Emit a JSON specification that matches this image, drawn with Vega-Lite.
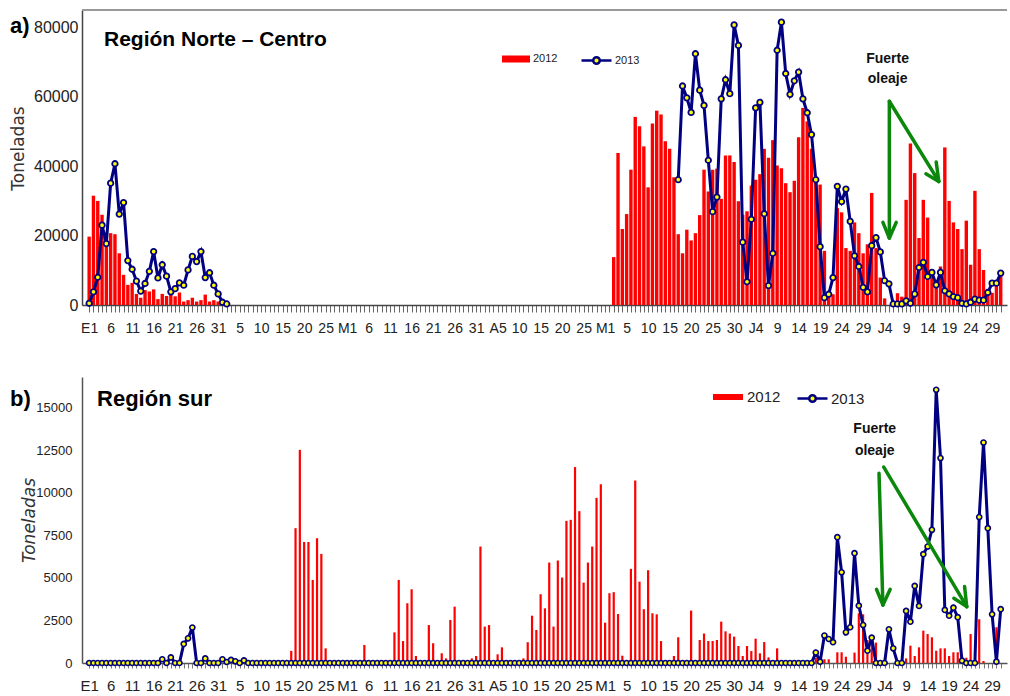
{
  "$schema": "https://vega.github.io/schema/vega-lite/v6.json",
  "background": "white",
  "padding": {"left": 9, "top": 9, "right": 0, "bottom": 0},
  "spacing": 42,
  "resolve": {"scale": {"fill": "independent", "stroke": "independent"}, "legend": {"fill": "independent", "stroke": "independent"}},
  "config": {"view": {"stroke": null}, "axis": {"grid": false}},
  "datasets": {
    "norte2012": [
      {"dia":0,"t":19700},{"dia":1,"t":31500},{"dia":2,"t":30000},{"dia":3,"t":26000},{"dia":4,"t":20900},{"dia":5,"t":20700},{"dia":6,"t":20400},{"dia":7,"t":14900},{"dia":8,"t":8700},{"dia":9,"t":5800},{"dia":10,"t":6400},{"dia":11,"t":3200},{"dia":12,"t":2100},{"dia":13,"t":4300},{"dia":14,"t":3900},{"dia":15,"t":4500},{"dia":16,"t":1700},{"dia":17,"t":3200},{"dia":18,"t":2600},{"dia":19,"t":2900},{"dia":20,"t":2500},{"dia":21,"t":3600},{"dia":22,"t":1000},{"dia":23,"t":1400},{"dia":24,"t":2100},{"dia":25,"t":1000},{"dia":26,"t":1400},{"dia":27,"t":3000},{"dia":28,"t":1000},{"dia":29,"t":1400},{"dia":30,"t":1000},{"dia":31,"t":500},
      {"dia":122,"t":13800},{"dia":123,"t":43800},{"dia":124,"t":21900},{"dia":125,"t":26200},{"dia":126,"t":39000},{"dia":127,"t":54200},{"dia":128,"t":51500},{"dia":129,"t":45700},{"dia":130,"t":33900},{"dia":131,"t":52300},{"dia":132,"t":56000},{"dia":133,"t":54900},{"dia":134,"t":47200},{"dia":135,"t":45000},{"dia":136,"t":36800},{"dia":137,"t":20400},{"dia":138,"t":14900},{"dia":139,"t":21700},{"dia":140,"t":18600},{"dia":141,"t":20700},{"dia":142,"t":25900},{"dia":143,"t":39000},{"dia":144,"t":32700},{"dia":145,"t":39000},{"dia":146,"t":39300},{"dia":147,"t":30600},{"dia":148,"t":43100},{"dia":149,"t":43100},{"dia":150,"t":41200},{"dia":151,"t":29900},{"dia":152,"t":26000},{"dia":153,"t":27000},{"dia":154,"t":34400},{"dia":155,"t":36100},{"dia":156,"t":37700},{"dia":157,"t":45000},{"dia":158,"t":42400},{"dia":159,"t":47500},{"dia":160,"t":40200},{"dia":161,"t":39400},{"dia":162,"t":35100},{"dia":163,"t":32500},{"dia":164,"t":35800},{"dia":165,"t":48300},{"dia":166,"t":56800},{"dia":167,"t":52900},{"dia":168,"t":45000},{"dia":169,"t":36100},{"dia":170,"t":34700},{"dia":171,"t":15600},{"dia":172,"t":3400},{"dia":173,"t":3100},{"dia":174,"t":27900},{"dia":175,"t":26700},{"dia":176,"t":16400},{"dia":177,"t":15600},{"dia":178,"t":23800},{"dia":179,"t":20700},{"dia":180,"t":14900},{"dia":181,"t":17500},{"dia":182,"t":32300},{"dia":183,"t":16400},{"dia":184,"t":7900},{"dia":185,"t":1900},{"dia":188,"t":3400},{"dia":189,"t":2400},{"dia":190,"t":30300},{"dia":191,"t":46500},{"dia":192,"t":38000},{"dia":193,"t":19300},{"dia":194,"t":30300},{"dia":195,"t":25200},{"dia":196,"t":10000},{"dia":197,"t":6300},{"dia":198,"t":11100},{"dia":199,"t":45400},{"dia":200,"t":30000},{"dia":201,"t":23800},{"dia":202,"t":21900},{"dia":203,"t":16100},{"dia":204,"t":24300},{"dia":205,"t":11600},{"dia":206,"t":32900},{"dia":207,"t":16100},{"dia":208,"t":10100},{"dia":209,"t":4300},{"dia":210,"t":3500},{"dia":211,"t":6300},{"dia":212,"t":8500}
    ],
    "norte2013": [
      {"dia":0,"t":500,"tramo":1},{"dia":1,"t":3800,"tramo":1},{"dia":2,"t":8000,"tramo":1},{"dia":3,"t":23000,"tramo":1},{"dia":4,"t":17700,"tramo":1},{"dia":5,"t":35100,"tramo":1},{"dia":6,"t":40700,"tramo":1},{"dia":7,"t":26200,"tramo":1},{"dia":8,"t":29500,"tramo":1},{"dia":9,"t":12800,"tramo":1},{"dia":10,"t":10300,"tramo":1},{"dia":11,"t":6900,"tramo":1},{"dia":12,"t":4000,"tramo":1},{"dia":13,"t":6200,"tramo":1},{"dia":14,"t":9700,"tramo":1},{"dia":15,"t":15400,"tramo":1},{"dia":16,"t":7800,"tramo":1},{"dia":17,"t":11600,"tramo":1},{"dia":18,"t":8300,"tramo":1},{"dia":19,"t":3800,"tramo":1},{"dia":20,"t":4700,"tramo":1},{"dia":21,"t":6400,"tramo":1},{"dia":22,"t":5700,"tramo":1},{"dia":23,"t":10100,"tramo":1},{"dia":24,"t":14000,"tramo":1},{"dia":25,"t":12500,"tramo":1},{"dia":26,"t":15400,"tramo":1},{"dia":27,"t":7900,"tramo":1},{"dia":28,"t":9300,"tramo":1},{"dia":29,"t":5700,"tramo":1},{"dia":30,"t":3200,"tramo":1},{"dia":31,"t":800,"tramo":1},{"dia":32,"t":300,"tramo":1},
      {"dia":137,"t":36100,"tramo":2},{"dia":138,"t":63100,"tramo":2},{"dia":139,"t":59700,"tramo":2},{"dia":140,"t":55500,"tramo":2},{"dia":141,"t":72400,"tramo":2},{"dia":142,"t":61900,"tramo":2},{"dia":143,"t":57500,"tramo":2},{"dia":144,"t":41700,"tramo":2},{"dia":145,"t":26900,"tramo":2},{"dia":146,"t":31100,"tramo":2},{"dia":147,"t":59400,"tramo":2},{"dia":148,"t":64900,"tramo":2},{"dia":149,"t":60900,"tramo":2},{"dia":150,"t":80700,"tramo":2},{"dia":151,"t":74800,"tramo":2},{"dia":152,"t":18100,"tramo":2},{"dia":153,"t":6700,"tramo":2},{"dia":154,"t":24700,"tramo":2},{"dia":155,"t":56800,"tramo":2},{"dia":156,"t":58400,"tramo":2},{"dia":157,"t":26300,"tramo":2},{"dia":158,"t":5600,"tramo":2},{"dia":159,"t":14900,"tramo":2},{"dia":160,"t":73400,"tramo":2},{"dia":161,"t":81500,"tramo":2},{"dia":162,"t":66700,"tramo":2},{"dia":163,"t":60700,"tramo":2},{"dia":164,"t":64600,"tramo":2},{"dia":165,"t":67100,"tramo":2},{"dia":166,"t":59400,"tramo":2},{"dia":167,"t":55400,"tramo":2},{"dia":168,"t":49100,"tramo":2},{"dia":169,"t":36100,"tramo":2},{"dia":170,"t":16800,"tramo":2},{"dia":171,"t":2100,"tramo":2},{"dia":172,"t":3100,"tramo":2},{"dia":173,"t":7900,"tramo":2},{"dia":174,"t":34200,"tramo":2},{"dia":175,"t":29800,"tramo":2},{"dia":176,"t":33400,"tramo":2},{"dia":177,"t":24100,"tramo":2},{"dia":178,"t":14200,"tramo":2},{"dia":179,"t":11100,"tramo":2},{"dia":180,"t":5100,"tramo":2},{"dia":181,"t":3800,"tramo":2},{"dia":182,"t":17100,"tramo":2},{"dia":183,"t":19400,"tramo":2},{"dia":184,"t":15300,"tramo":2},{"dia":185,"t":7000,"tramo":2},{"dia":186,"t":6100,"tramo":2},{"dia":187,"t":300,"tramo":2},{"dia":188,"t":300,"tramo":2},{"dia":189,"t":300,"tramo":2},{"dia":190,"t":1200,"tramo":2},{"dia":191,"t":500,"tramo":2},{"dia":192,"t":3200,"tramo":2},{"dia":193,"t":10800,"tramo":2},{"dia":194,"t":12300,"tramo":2},{"dia":195,"t":8200,"tramo":2},{"dia":196,"t":9400,"tramo":2},{"dia":197,"t":5800,"tramo":2},{"dia":198,"t":9400,"tramo":2},{"dia":199,"t":4100,"tramo":2},{"dia":200,"t":3200,"tramo":2},{"dia":201,"t":2400,"tramo":2},{"dia":202,"t":2100,"tramo":2},{"dia":203,"t":500,"tramo":2},{"dia":204,"t":300,"tramo":2},{"dia":205,"t":800,"tramo":2},{"dia":206,"t":1700,"tramo":2},{"dia":207,"t":1400,"tramo":2},{"dia":208,"t":1400,"tramo":2},{"dia":209,"t":3600,"tramo":2},{"dia":210,"t":6300,"tramo":2},{"dia":211,"t":6300,"tramo":2},{"dia":212,"t":9200,"tramo":2}
    ],
    "sur2012": [
      {"dia":47,"t":710},{"dia":48,"t":7920},{"dia":49,"t":12520},{"dia":50,"t":7110},{"dia":51,"t":7110},{"dia":52,"t":4880},{"dia":53,"t":7330},{"dia":54,"t":6410},{"dia":55,"t":860},{"dia":64,"t":1060},{"dia":71,"t":1800},{"dia":72,"t":4880},{"dia":73,"t":1290},{"dia":74,"t":3510},{"dia":75,"t":4330},{"dia":76,"t":410},{"dia":79,"t":2230},{"dia":80,"t":1160},{"dia":82,"t":570},{"dia":83,"t":270},{"dia":84,"t":2530},{"dia":85,"t":3310},{"dia":89,"t":270},{"dia":90,"t":410},{"dia":91,"t":6840},{"dia":92,"t":2140},{"dia":93,"t":2230},{"dia":95,"t":510},{"dia":96,"t":920},{"dia":101,"t":270},{"dia":102,"t":1220},{"dia":103,"t":2780},{"dia":104,"t":1940},{"dia":105,"t":4040},{"dia":106,"t":3210},{"dia":107,"t":5900},{"dia":108,"t":2140},{"dia":109,"t":6020},{"dia":110,"t":5020},{"dia":111,"t":8350},{"dia":112,"t":8410},{"dia":113,"t":11510},{"dia":114,"t":8920},{"dia":115,"t":4720},{"dia":116,"t":5900},{"dia":117,"t":6840},{"dia":118,"t":9700},{"dia":119,"t":10500},{"dia":120,"t":2370},{"dia":121,"t":4100},{"dia":122,"t":4160},{"dia":123,"t":2880},{"dia":124,"t":430},{"dia":126,"t":5530},{"dia":127,"t":10720},{"dia":128,"t":4780},{"dia":129,"t":3160},{"dia":130,"t":5450},{"dia":131,"t":2920},{"dia":132,"t":2860},{"dia":133,"t":1290},{"dia":136,"t":410},{"dia":137,"t":1510},{"dia":140,"t":3080},{"dia":142,"t":1350},{"dia":143,"t":1730},{"dia":144,"t":1290},{"dia":145,"t":1290},{"dia":146,"t":1350},{"dia":147,"t":2430},{"dia":148,"t":1860},{"dia":149,"t":1730},{"dia":150,"t":1550},{"dia":151,"t":1000},{"dia":152,"t":410},{"dia":153,"t":1000},{"dia":154,"t":700},{"dia":155,"t":1430},{"dia":156,"t":570},{"dia":157,"t":1230},{"dia":158,"t":330},{"dia":160,"t":860},{"dia":169,"t":300},{"dia":171,"t":220},{"dia":172,"t":220},{"dia":174,"t":630},{"dia":175,"t":630},{"dia":176,"t":370},{"dia":178,"t":610},{"dia":179,"t":2920},{"dia":180,"t":2860},{"dia":181,"t":1350},{"dia":182,"t":1650},{"dia":183,"t":1200},{"dia":190,"t":270},{"dia":191,"t":1020},{"dia":192,"t":410},{"dia":193,"t":920},{"dia":194,"t":1900},{"dia":195,"t":1700},{"dia":196,"t":1510},{"dia":197,"t":720},{"dia":198,"t":860},{"dia":199,"t":860},{"dia":200,"t":410},{"dia":201,"t":630},{"dia":202,"t":630},{"dia":203,"t":270},{"dia":204,"t":310},{"dia":205,"t":1700},{"dia":207,"t":2570},{"dia":208,"t":120},{"dia":211,"t":2100}
    ],
    "sur2013": [
      {"dia":0,"t":0},{"dia":1,"t":0},{"dia":2,"t":0},{"dia":3,"t":0},{"dia":4,"t":0},{"dia":5,"t":0},{"dia":6,"t":0},{"dia":7,"t":0},{"dia":8,"t":0},{"dia":9,"t":0},{"dia":10,"t":0},{"dia":11,"t":0},{"dia":12,"t":0},{"dia":13,"t":0},{"dia":14,"t":0},{"dia":15,"t":0},{"dia":16,"t":0},{"dia":17,"t":220},{"dia":18,"t":0},{"dia":19,"t":330},{"dia":20,"t":0},{"dia":21,"t":0},{"dia":22,"t":1120},{"dia":23,"t":1450},{"dia":24,"t":2080},{"dia":25,"t":0},{"dia":26,"t":0},{"dia":27,"t":270},{"dia":28,"t":0},{"dia":29,"t":0},{"dia":30,"t":0},{"dia":31,"t":220},{"dia":32,"t":60},{"dia":33,"t":180},{"dia":34,"t":100},{"dia":35,"t":0},{"dia":36,"t":150},{"dia":37,"t":0},{"dia":38,"t":0},{"dia":39,"t":0},
      {"dia":40,"t":0},{"dia":41,"t":0},{"dia":42,"t":0},{"dia":43,"t":0},{"dia":44,"t":0},{"dia":45,"t":0},{"dia":46,"t":0},{"dia":47,"t":0},{"dia":48,"t":0},{"dia":49,"t":0},{"dia":50,"t":0},{"dia":51,"t":0},{"dia":52,"t":0},{"dia":53,"t":0},{"dia":54,"t":0},{"dia":55,"t":0},{"dia":56,"t":0},{"dia":57,"t":0},{"dia":58,"t":0},{"dia":59,"t":0},{"dia":60,"t":0},{"dia":61,"t":0},{"dia":62,"t":0},{"dia":63,"t":0},{"dia":64,"t":0},{"dia":65,"t":0},{"dia":66,"t":0},{"dia":67,"t":0},{"dia":68,"t":0},{"dia":69,"t":0},{"dia":70,"t":0},{"dia":71,"t":0},{"dia":72,"t":0},{"dia":73,"t":0},{"dia":74,"t":0},{"dia":75,"t":0},{"dia":76,"t":0},{"dia":77,"t":0},{"dia":78,"t":0},{"dia":79,"t":0},
      {"dia":80,"t":0},{"dia":81,"t":0},{"dia":82,"t":0},{"dia":83,"t":0},{"dia":84,"t":0},{"dia":85,"t":0},{"dia":86,"t":0},{"dia":87,"t":0},{"dia":88,"t":0},{"dia":89,"t":0},{"dia":90,"t":0},{"dia":91,"t":0},{"dia":92,"t":0},{"dia":93,"t":0},{"dia":94,"t":0},{"dia":95,"t":0},{"dia":96,"t":0},{"dia":97,"t":0},{"dia":98,"t":0},{"dia":99,"t":0},{"dia":100,"t":0},{"dia":101,"t":0},{"dia":102,"t":0},{"dia":103,"t":0},{"dia":104,"t":0},{"dia":105,"t":0},{"dia":106,"t":0},{"dia":107,"t":0},{"dia":108,"t":0},{"dia":109,"t":0},{"dia":110,"t":0},{"dia":111,"t":0},{"dia":112,"t":0},{"dia":113,"t":0},{"dia":114,"t":0},{"dia":115,"t":0},{"dia":116,"t":0},{"dia":117,"t":0},{"dia":118,"t":0},{"dia":119,"t":0},
      {"dia":120,"t":0},{"dia":121,"t":0},{"dia":122,"t":0},{"dia":123,"t":0},{"dia":124,"t":0},{"dia":125,"t":0},{"dia":126,"t":0},{"dia":127,"t":0},{"dia":128,"t":0},{"dia":129,"t":0},{"dia":130,"t":0},{"dia":131,"t":0},{"dia":132,"t":0},{"dia":133,"t":0},{"dia":134,"t":0},{"dia":135,"t":0},{"dia":136,"t":0},{"dia":137,"t":0},{"dia":138,"t":0},{"dia":139,"t":0},{"dia":140,"t":0},{"dia":141,"t":0},{"dia":142,"t":0},{"dia":143,"t":0},{"dia":144,"t":0},{"dia":145,"t":0},{"dia":146,"t":0},{"dia":147,"t":0},{"dia":148,"t":0},{"dia":149,"t":0},{"dia":150,"t":0},{"dia":151,"t":0},{"dia":152,"t":0},{"dia":153,"t":0},{"dia":154,"t":0},{"dia":155,"t":0},{"dia":156,"t":0},{"dia":157,"t":0},{"dia":158,"t":0},{"dia":159,"t":0},
      {"dia":160,"t":0},{"dia":161,"t":0},{"dia":162,"t":0},{"dia":163,"t":0},{"dia":164,"t":0},{"dia":165,"t":0},{"dia":166,"t":0},{"dia":167,"t":0},{"dia":168,"t":0},{"dia":169,"t":610},{"dia":170,"t":80},{"dia":171,"t":1610},{"dia":172,"t":1410},{"dia":173,"t":1220},{"dia":174,"t":7390},{"dia":175,"t":5330},{"dia":176,"t":1800},{"dia":177,"t":2100},{"dia":178,"t":6450},{"dia":179,"t":3370},{"dia":180,"t":2230},{"dia":181,"t":720},{"dia":182,"t":1490},{"dia":183,"t":0},{"dia":184,"t":0},{"dia":185,"t":0},{"dia":186,"t":1980},{"dia":187,"t":860},{"dia":188,"t":0},{"dia":189,"t":0},{"dia":190,"t":3060},{"dia":191,"t":2430},{"dia":192,"t":4530},{"dia":193,"t":3350},{"dia":194,"t":6390},{"dia":195,"t":6840},{"dia":196,"t":7820},{"dia":197,"t":16050},{"dia":198,"t":12040},{"dia":199,"t":3120},{"dia":200,"t":2780},{"dia":201,"t":3250},{"dia":202,"t":2690},{"dia":203,"t":135},{"dia":204,"t":0},{"dia":205,"t":0},{"dia":206,"t":0},{"dia":207,"t":8570},{"dia":208,"t":12950},{"dia":209,"t":7920},{"dia":210,"t":2860},{"dia":211,"t":80},{"dia":212,"t":3160}
    ],
    "flechasA": [
      {"d1":186.1,"v1":58700,"d2":186.1,"v2":19300},
      {"d1":184.6,"v1":23800,"d2":186.1,"v2":19300},
      {"d1":187.7,"v1":23800,"d2":186.1,"v2":19300},
      {"d1":186.1,"v1":58700,"d2":197.6,"v2":35600},
      {"d1":194.6,"v1":37800,"d2":197.6,"v2":35600},
      {"d1":197.0,"v1":41200,"d2":197.6,"v2":35600}
    ],
    "flechasB": [
      {"d1":183.7,"v1":11150,"d2":184.6,"v2":3410},
      {"d1":183.1,"v1":4330,"d2":184.6,"v2":3410},
      {"d1":186.3,"v1":4330,"d2":184.6,"v2":3410},
      {"d1":184.8,"v1":11510,"d2":204.1,"v2":3310},
      {"d1":201.1,"v1":3800,"d2":204.1,"v2":3310},
      {"d1":203.6,"v1":4490,"d2":204.1,"v2":3310}
    ]
  },
  "vconcat": [
    {
      "width": 925,
      "height": 295,
      "layer": [
        {
          "data": {"name": "norte2012"},
          "mark": {"type": "bar", "width": 3.4},
          "encoding": {
            "x": {"field": "dia", "type": "quantitative",
              "scale": {"domain": [-0.5, 212.3], "nice": false, "zero": false},
              "axis": {"title": null, "tickCount": 1000, "values": [0,1,2,3,4,5,6,7,8,9,10,11,12,13,14,15,16,17,18,19,20,21,22,23,24,25,26,27,28,29,30,31,32,33,34,35,36,37,38,39,40,41,42,43,44,45,46,47,48,49,50,51,52,53,54,55,56,57,58,59,60,61,62,63,64,65,66,67,68,69,70,71,72,73,74,75,76,77,78,79,80,81,82,83,84,85,86,87,88,89,90,91,92,93,94,95,96,97,98,99,100,101,102,103,104,105,106,107,108,109,110,111,112,113,114,115,116,117,118,119,120,121,122,123,124,125,126,127,128,129,130,131,132,133,134,135,136,137,138,139,140,141,142,143,144,145,146,147,148,149,150,151,152,153,154,155,156,157,158,159,160,161,162,163,164,165,166,167,168,169,170,171,172,173,174,175,176,177,178,179,180,181,182,183,184,185,186,187,188,189,190,191,192,193,194,195,196,197,198,199,200,201,202,203,204,205,206,207,208,209,210,211,212],
                "labelExpr": "datum.value % 5 == 0 ? ['E1','6','11','16','21','26','31','5','10','15','20','25','M1','6','11','16','21','26','31','A5','10','15','20','25','M1','5','10','15','20','25','30','J4','9','14','19','24','29','J4','9','14','19','24','29'][datum.value/5] : ''",
                "labelOverlap": false, "labelBound": false, "labelFlush": false,
                "labelFont": "Liberation Sans, Arial, sans-serif",
                "labelFontSize": 14, "labelColor": "#222", "labelPadding": 9,
                "tickSize": 7, "tickColor": "#666", "tickWidth": 1,
                "domainColor": "#444", "domainWidth": 1.5}},
            "y": {"field": "t", "type": "quantitative",
              "scale": {"domain": [0, 85000], "nice": false},
              "axis": {"values": [0, 20000, 40000, 60000, 80000], "format": "d",
                "ticks": false, "labelPadding": 4,
                "labelFont": "Liberation Sans, Arial, sans-serif", "labelFontSize": 16, "labelColor": "#222",
                "domainColor": "#444", "domainWidth": 1.5,
                "title": "Toneladas", "titleFont": "DejaVu Sans, sans-serif", "titleFontSize": 17,
                "titleFontWeight": "normal", "titleColor": "#333", "titleX": -55, "titleY": 138}},
            "fill": {"datum": "2012", "type": "nominal",
              "scale": {"domain": ["2012"], "range": ["#ff0000"]},
              "legend": {"orient": "none", "legendX": 420, "legendY": 35, "title": null,
                "direction": "horizontal", "padding": 0,
                "symbolType": "M-1,-0.25H1V0.25H-1Z", "symbolSize": 784, "symbolStrokeWidth": 0,
                "labelFont": "Liberation Sans, Arial, sans-serif",
                "labelFontSize": 11, "labelColor": "#222", "labelOffset": 3}}
          }
        },
        {
          "data": {"values": [{}]},
          "mark": {"type": "rule", "color": "#999999", "strokeWidth": 2},
          "encoding": {"y": {"datum": 85000, "type": "quantitative"}}
        },
        {
          "data": {"name": "norte2013"},
          "mark": {"type": "line", "color": "#000080", "strokeWidth": 3},
          "encoding": {
            "x": {"field": "dia", "type": "quantitative"},
            "y": {"field": "t", "type": "quantitative"},
            "detail": {"field": "tramo", "type": "nominal"}
          }
        },
        {
          "data": {"name": "norte2013"},
          "mark": {"type": "point", "filled": true, "fill": "#ffff00", "opacity": 1, "strokeWidth": 1.8, "size": 30},
          "encoding": {
            "x": {"field": "dia", "type": "quantitative"},
            "y": {"field": "t", "type": "quantitative"},
            "stroke": {"datum": "2013", "type": "nominal",
              "scale": {"domain": ["2013"], "range": ["#000080"]},
              "legend": {"orient": "none", "legendX": 498, "legendY": 34, "title": null,
                "direction": "horizontal", "padding": 0,
                "symbolType": "M-1,0H-0.22M0.22,0H1M-0.22,0A0.22,0.22 0 1,0 0.22,0A0.22,0.22 0 1,0 -0.22,0Z",
                "symbolSize": 900, "symbolStrokeWidth": 2.5, "symbolFillColor": "#ffff00",
                "labelFont": "Liberation Sans, Arial, sans-serif",
                "labelFontSize": 11, "labelColor": "#222", "labelOffset": 2}}
          }
        },
        {
          "data": {"name": "flechasA"},
          "mark": {"type": "rule", "color": "#0b870b", "strokeWidth": 3.5, "strokeCap": "round"},
          "encoding": {
            "x": {"field": "d1", "type": "quantitative"},
            "y": {"field": "v1", "type": "quantitative"},
            "x2": {"field": "d2"},
            "y2": {"field": "v2"}
          }
        },
        {
          "data": {"values": [{}]},
          "mark": {"type": "text", "text": "Fuerte|oleaje", "lineBreak": "|", "lineHeight": 20,
            "align": "center", "baseline": "alphabetic",
            "font": "Liberation Sans, Arial, sans-serif",
            "fontWeight": "bold", "fontSize": 14, "color": "#111"},
          "encoding": {
            "x": {"datum": 185.7, "type": "quantitative"},
            "y": {"datum": 69800, "type": "quantitative"}
          }
        },
        {
          "data": {"values": [{}]},
          "mark": {"type": "text", "text": "a)", "align": "left", "baseline": "alphabetic",
            "font": "Liberation Sans, Arial, sans-serif",
            "fontWeight": "bold", "fontSize": 22, "color": "#000"},
          "encoding": {
            "x": {"datum": -18.4, "type": "quantitative"},
            "y": {"datum": 78300, "type": "quantitative"}
          }
        },
        {
          "data": {"values": [{}]},
          "mark": {"type": "text", "text": "Región Norte – Centro", "align": "left", "baseline": "alphabetic",
            "font": "Liberation Sans, Arial, sans-serif",
            "fontWeight": "bold", "fontSize": 21, "color": "#000"},
          "encoding": {
            "x": {"datum": 3.45, "type": "quantitative"},
            "y": {"datum": 74600, "type": "quantitative"}
          }
        }
      ]
    },
    {
      "width": 925,
      "height": 286,
      "layer": [
        {
          "data": {"name": "sur2012"},
          "mark": {"type": "bar", "width": 2.2},
          "encoding": {
            "x": {"field": "dia", "type": "quantitative",
              "scale": {"domain": [-0.5, 212.3], "nice": false, "zero": false},
              "axis": {"title": null, "tickCount": 1000, "values": [0,1,2,3,4,5,6,7,8,9,10,11,12,13,14,15,16,17,18,19,20,21,22,23,24,25,26,27,28,29,30,31,32,33,34,35,36,37,38,39,40,41,42,43,44,45,46,47,48,49,50,51,52,53,54,55,56,57,58,59,60,61,62,63,64,65,66,67,68,69,70,71,72,73,74,75,76,77,78,79,80,81,82,83,84,85,86,87,88,89,90,91,92,93,94,95,96,97,98,99,100,101,102,103,104,105,106,107,108,109,110,111,112,113,114,115,116,117,118,119,120,121,122,123,124,125,126,127,128,129,130,131,132,133,134,135,136,137,138,139,140,141,142,143,144,145,146,147,148,149,150,151,152,153,154,155,156,157,158,159,160,161,162,163,164,165,166,167,168,169,170,171,172,173,174,175,176,177,178,179,180,181,182,183,184,185,186,187,188,189,190,191,192,193,194,195,196,197,198,199,200,201,202,203,204,205,206,207,208,209,210,211,212],
                "labelExpr": "datum.value % 5 == 0 ? ['E1','6','11','16','21','26','31','5','10','15','20','25','M1','6','11','16','21','26','31','A5','10','15','20','25','M1','5','10','15','20','25','30','J4','9','14','19','24','29','J4','9','14','19','24','29'][datum.value/5] : ''",
                "labelOverlap": false, "labelBound": false, "labelFlush": false,
                "labelFont": "Liberation Sans, Arial, sans-serif",
                "labelFontSize": 15, "labelColor": "#222", "labelPadding": 10,
                "tickSize": 5, "tickColor": "#777", "tickWidth": 1,
                "domainColor": "#555", "domainWidth": 1.5}},
            "y": {"field": "t", "type": "quantitative",
              "scale": {"domain": [0, 16800], "nice": false},
              "axis": {"values": [0, 2500, 5000, 7500, 10000, 12500, 15000], "format": "d",
                "ticks": false, "labelPadding": 10,
                "labelFont": "Liberation Sans, Arial, sans-serif",
                "labelFontSize": 13, "labelColor": "#222",
                "domainColor": "#555", "domainWidth": 1.5,
                "title": "Toneladas", "titleFont": "DejaVu Sans, sans-serif", "titleFontSize": 17,
                "titleFontWeight": "normal", "titleFontStyle": "italic", "titleColor": "#333",
                "titleX": -44, "titleY": 143}},
            "fill": {"datum": "2012", "type": "nominal",
              "scale": {"domain": ["2012"], "range": ["#ff0000"]},
              "legend": {"orient": "none", "legendX": 631, "legendY": 5, "title": null,
                "direction": "horizontal", "padding": 0,
                "symbolType": "M-1,-0.2H1V0.2H-1Z", "symbolSize": 900, "symbolStrokeWidth": 0,
                "labelFont": "Liberation Sans, Arial, sans-serif",
                "labelFontSize": 15, "labelColor": "#222", "labelOffset": 4}}
          }
        },
        {
          "data": {"name": "sur2013"},
          "mark": {"type": "line", "color": "#000080", "strokeWidth": 3},
          "encoding": {
            "x": {"field": "dia", "type": "quantitative"},
            "y": {"field": "t", "type": "quantitative"}
          }
        },
        {
          "data": {"name": "sur2013"},
          "mark": {"type": "point", "filled": true, "fill": "#ffff00", "opacity": 1, "strokeWidth": 1.6, "size": 26},
          "encoding": {
            "x": {"field": "dia", "type": "quantitative"},
            "y": {"field": "t", "type": "quantitative"},
            "stroke": {"datum": "2013", "type": "nominal",
              "scale": {"domain": ["2013"], "range": ["#000080"]},
              "legend": {"orient": "none", "legendX": 714, "legendY": 5, "title": null,
                "direction": "horizontal", "padding": 0,
                "symbolType": "M-1,0H-0.22M0.22,0H1M-0.22,0A0.22,0.22 0 1,0 0.22,0A0.22,0.22 0 1,0 -0.22,0Z",
                "symbolSize": 900, "symbolStrokeWidth": 2.5, "symbolFillColor": "#ffff00",
                "labelFont": "Liberation Sans, Arial, sans-serif",
                "labelFontSize": 15, "labelColor": "#222", "labelOffset": 2}}
          }
        },
        {
          "data": {"name": "flechasB"},
          "mark": {"type": "rule", "color": "#0b870b", "strokeWidth": 3.5, "strokeCap": "round"},
          "encoding": {
            "x": {"field": "d1", "type": "quantitative"},
            "y": {"field": "v1", "type": "quantitative"},
            "x2": {"field": "d2"},
            "y2": {"field": "v2"}
          }
        },
        {
          "data": {"values": [{}]},
          "mark": {"type": "text", "text": "Fuerte|oleaje", "lineBreak": "|", "lineHeight": 22,
            "align": "center", "baseline": "alphabetic",
            "font": "Liberation Sans, Arial, sans-serif",
            "fontWeight": "bold", "fontSize": 14, "color": "#111"},
          "encoding": {
            "x": {"datum": 182.7, "type": "quantitative"},
            "y": {"datum": 13500, "type": "quantitative"}
          }
        },
        {
          "data": {"values": [{}]},
          "mark": {"type": "text", "text": "b)", "align": "left", "baseline": "alphabetic",
            "font": "Liberation Sans, Arial, sans-serif",
            "fontWeight": "bold", "fontSize": 22, "color": "#000"},
          "encoding": {
            "x": {"datum": -18.4, "type": "quantitative"},
            "y": {"datum": 15070, "type": "quantitative"}
          }
        },
        {
          "data": {"values": [{}]},
          "mark": {"type": "text", "text": "Región sur", "align": "left", "baseline": "alphabetic",
            "font": "Liberation Sans, Arial, sans-serif",
            "fontWeight": "bold", "fontSize": 22, "color": "#000"},
          "encoding": {
            "x": {"datum": 1.84, "type": "quantitative"},
            "y": {"datum": 15070, "type": "quantitative"}
          }
        }
      ]
    }
  ]
}
